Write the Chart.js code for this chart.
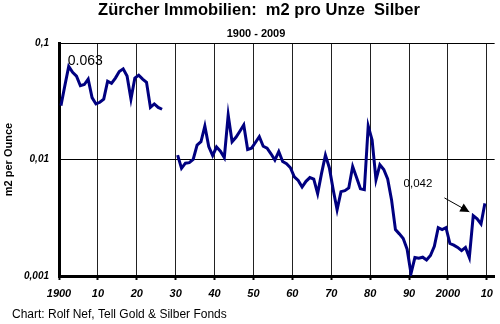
<!DOCTYPE html>
<html>
<head>
<meta charset="utf-8">
<script src="https://cdn.jsdelivr.net/npm/chart.js@4/dist/chart.umd.min.js"></script>
<style>
  body { margin: 0; background: #fff; }
</style>
</head>
<body>
<canvas id="myChart" width="500" height="324"></canvas>
<script>
// m2 of Zurich real estate per ounce of silver, one value per year (null = no data)
const firstYear = 1900;
const ratio = [
    0.029, 0.043, 0.063, 0.056, 0.052, 0.043, 0.044, 0.049, 0.034, 0.030,   // 1900
    0.031, 0.033, 0.047, 0.045, 0.050, 0.057, 0.060, 0.052, 0.033, 0.050,   // 1910
    0.053, 0.049, 0.046, 0.028, 0.030, 0.028, 0.027, null, null, null,      // 1920
    0.0109, 0.0084, 0.0093, 0.0094, 0.0100, 0.0133, 0.0142, 0.0194, 0.0129, 0.0108, // 1930
    0.0128, 0.0118, 0.0104, 0.0241, 0.0142, 0.0155, 0.0175, 0.0198, 0.0122, 0.0125, // 1940
    0.0140, 0.0157, 0.0130, 0.0125, 0.0112, 0.0099, 0.0117, 0.0096, 0.0092, 0.0085, // 1950
    0.0071, 0.0066, 0.0058, 0.0065, 0.0070, 0.0068, 0.0051, 0.0076, 0.0109, 0.0085, // 1960
    0.0055, 0.0037, 0.0053, 0.0054, 0.0057, 0.0087, 0.0070, 0.0056, 0.0055, 0.0194, // 1970
    0.0147, 0.0067, 0.0090, 0.0082, 0.0068, 0.0045, 0.0025, 0.0023, 0.0021, 0.0017, // 1980
    0.00105, 0.00144, 0.00142, 0.00145, 0.00137, 0.0015, 0.0018, 0.0026, 0.0025, 0.0026, // 1990
    0.0019, 0.00184, 0.00176, 0.00165, 0.00176, 0.00144, 0.0033, 0.0031, 0.0028, 0.0042  // 2000
];

const xTicks = [1900, 1910, 1920, 1930, 1940, 1950, 1960, 1970, 1980, 1990, 2000, 2010];
const xTickLabels = ['1900', '10', '20', '30', '40', '50', '60', '70', '80', '90', '2000', '10'];
const yTicks = [0.001, 0.01, 0.1];

// each year is plotted in the middle of its slot
const points = ratio.map((v, i) => ({ x: firstYear + i + 0.5, y: v }));

const FONT = '"Liberation Sans", Arial, sans-serif';
Chart.defaults.font.family = FONT;
Chart.defaults.color = '#000';

// titles, source line and the two value notes
const textPlugin = {
    id: 'texts',
    afterDraw(chart) {
        const c = chart.ctx;
        const x = chart.scales.x, y = chart.scales.y;
        c.save();
        c.fillStyle = '#000';
        c.textBaseline = 'alphabetic';

        c.textAlign = 'center';
        c.font = 'bold 16.5px ' + FONT;
        c.fillText('Zürcher Immobilien:  m2 pro Unze  Silber', 259, 15);
        c.font = 'bold 11px ' + FONT;
        c.fillText('1900 - 2009', 256, 37);

        c.textAlign = 'left';
        c.font = '12px ' + FONT;
        c.fillText('Chart: Rolf Nef, Tell Gold & Silber Fonds', 12, 318);

        // peak note
        c.font = '14px ' + FONT;
        c.fillText('0.063', x.getPixelForValue(1902.5) - 1, y.getPixelForValue(0.063) - 1);

        // latest value note with arrow
        c.textAlign = 'center';
        c.textBaseline = 'middle';
        c.font = '11.5px ' + FONT;
        c.fillText('0,042', x.getPixelForValue(1992.3), y.getPixelForValue(0.0062));

        const x0 = x.getPixelForValue(1999.1), y0 = y.getPixelForValue(0.00468);
        const x1 = x.getPixelForValue(2005.5), y1 = y.getPixelForValue(0.00355);
        c.strokeStyle = '#000';
        c.lineWidth = 1;
        c.beginPath();
        c.moveTo(x0, y0);
        c.lineTo(x1, y1);
        c.stroke();
        const a = Math.atan2(y1 - y0, x1 - x0);
        c.beginPath();
        c.moveTo(x1, y1);
        c.lineTo(x1 - 9 * Math.cos(a) + 4.5 * Math.sin(a), y1 - 9 * Math.sin(a) - 4.5 * Math.cos(a));
        c.lineTo(x1 - 9 * Math.cos(a) - 4.5 * Math.sin(a), y1 - 9 * Math.sin(a) + 4.5 * Math.cos(a));
        c.closePath();
        c.fill();
        c.restore();
    }
};

const ctx = document.getElementById('myChart').getContext('2d');

const myChart = new Chart(ctx, {
    type: 'line',
    data: {
        datasets: [{
            label: 'm2 per Ounce',
            data: points,
            borderColor: '#000080',
            backgroundColor: '#000080',
            borderWidth: 3,
            pointRadius: 0,
            tension: 0,
            spanGaps: false
        }]
    },
    options: {
        responsive: false,
        animation: false,
        layout: {
            padding: { top: 43, right: 2, left: 0, bottom: 0 }
        },
        scales: {
            x: {
                type: 'linear',
                min: 1900,
                max: 2012,
                afterBuildTicks: (s) => { s.ticks = xTicks.map(v => ({ value: v })); },
                afterFit: (s) => { s.height = 48; },
                grid: {
                    color: '#222',
                    lineWidth: 1,
                    drawTicks: true,
                    tickLength: 4,
                    tickColor: '#000',
                    tickWidth: 2
                },
                border: { width: 3, color: '#000' },
                ticks: {
                    autoSkip: false,
                    maxRotation: 0,
                    padding: 7,
                    font: { size: 11, weight: 'bold', style: 'italic' },
                    callback: (v) => xTickLabels[xTicks.indexOf(v)]
                }
            },
            y: {
                type: 'logarithmic',
                min: 0.001,
                max: 0.1,
                afterBuildTicks: (s) => { s.ticks = yTicks.map(v => ({ value: v })); },
                afterFit: (s) => { s.width = 59; },
                grid: {
                    color: '#000',
                    lineWidth: 1,
                    drawTicks: false
                },
                border: { width: 3, color: '#000' },
                title: {
                    display: true,
                    text: 'm2 per Ounce',
                    font: { size: 11, weight: 'bold' },
                    padding: { top: 2, bottom: 0 }
                },
                ticks: {
                    padding: 10,
                    font: { size: 10, weight: 'bold', style: 'italic' },
                    callback: (v) => String(v).replace('.', ',')
                }
            }
        },
        plugins: {
            legend: { display: false },
            tooltip: { enabled: false }
        }
    },
    plugins: [textPlugin]
});
</script>
</body>
</html>
